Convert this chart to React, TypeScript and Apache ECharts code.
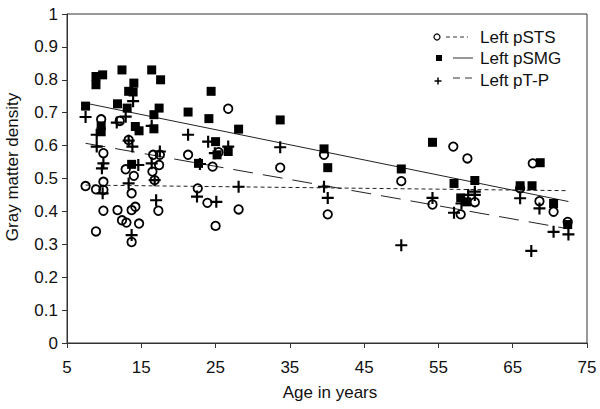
import React, { useEffect, useRef } from "react";
import * as echarts from "echarts";

// Left pSTS (open circles)
const stsAge = [7.5, 8.9, 9.9, 9.9, 9.9, 8.9, 11.8, 12.4, 13.0, 13.7, 14.2, 14.7, 13.7, 13.7, 12.9, 14.0, 16.5, 16.8, 17.3, 17.4, 22.6, 23.9, 9.9, 9.6, 12.1, 13.3, 16.6, 17.5, 21.3, 26.7, 24.6, 28.1, 25.0, 33.7, 39.6, 40.1, 57.0, 58.9, 50.0, 54.2, 58.0, 59.9, 67.7, 66.0, 68.6, 70.5, 72.4, 25.4];
const stsDensity = [0.477, 0.467, 0.49, 0.465, 0.402, 0.339, 0.404, 0.373, 0.366, 0.404, 0.414, 0.363, 0.455, 0.307, 0.528, 0.508, 0.521, 0.495, 0.402, 0.541, 0.47, 0.426, 0.577, 0.68, 0.675, 0.617, 0.572, 0.572, 0.572, 0.712, 0.536, 0.406, 0.356, 0.533, 0.572, 0.391, 0.597, 0.561, 0.492, 0.421, 0.391, 0.428, 0.546, 0.47, 0.431, 0.399, 0.368, 0.58];

// Left pSMG (filled squares)
const smgAge = [7.5, 8.9, 9.8, 8.9, 12.4, 16.4, 17.6, 14.0, 13.3, 13.9, 11.8, 13.1, 17.4, 16.7, 24.4, 21.3, 24.1, 9.6, 9.6, 14.2, 14.7, 16.7, 22.7, 13.7, 28.1, 33.7, 25.0, 25.2, 26.7, 39.6, 40.1, 54.2, 50.0, 57.1, 59.9, 58.0, 58.8, 68.7, 66.0, 67.6, 70.5, 72.4];
const smgDensity = [0.72, 0.81, 0.815, 0.785, 0.83, 0.83, 0.8, 0.79, 0.765, 0.763, 0.727, 0.714, 0.714, 0.694, 0.765, 0.702, 0.682, 0.66, 0.642, 0.658, 0.645, 0.651, 0.546, 0.543, 0.65, 0.678, 0.612, 0.572, 0.582, 0.59, 0.533, 0.61, 0.529, 0.485, 0.494, 0.441, 0.429, 0.548, 0.478, 0.478, 0.424, 0.36];

// Left pT-P (plus signs)
const tpAge = [7.5, 9.0, 9.0, 13.9, 11.7, 12.9, 16.4, 21.3, 24.0, 13.8, 17.5, 9.9, 14.6, 16.4, 9.7, 9.8, 13.3, 17.0, 13.7, 22.5, 24.9, 26.7, 22.9, 25.1, 28.1, 33.7, 39.6, 40.1, 54.2, 50.0, 57.1, 59.0, 59.9, 58.1, 59.9, 66.0, 68.6, 67.5, 70.5, 72.5, 13.3, 16.8];
const tpDensity = [0.687, 0.633, 0.597, 0.735, 0.67, 0.688, 0.66, 0.633, 0.612, 0.597, 0.582, 0.546, 0.541, 0.546, 0.531, 0.455, 0.485, 0.434, 0.328, 0.445, 0.577, 0.597, 0.544, 0.429, 0.475, 0.595, 0.475, 0.441, 0.441, 0.297, 0.396, 0.45, 0.45, 0.424, 0.46, 0.44, 0.409, 0.28, 0.338, 0.33, 0.615, 0.495];

// Regression trend lines (end points)
const trendAge = [7.5, 72.5];
const stsTrend = [0.48, 0.463];
const smgTrend = [0.729, 0.43];
const tpTrend = [0.607, 0.347];

const xTicks = [5, 75, 10];
const yTicks = [0, 1, 0.1];

const FONT = '"Liberation Sans", Arial, sans-serif';
const PLUS = "path://M0,4.1H10V5.9H0Z M4.1,0H5.9V10H4.1Z";

const zip = (a: number[], b: number[]) => a.map((v, i) => [v, b[i]]);

export default function App() {
  const ref = useRef<HTMLDivElement>(null);
  useEffect(() => {
    if (!ref.current) return;
    const chart = echarts.init(ref.current, null, { renderer: "svg" });
    const legendRows = [
      { y: 37, label: "Left pSTS" },
      { y: 58, label: "Left pSMG" },
      { y: 80, label: "Left pT-P" },
    ];
    chart.setOption({
      animation: false,
      backgroundColor: "#fff",
      grid: { left: 67, right: 13, top: 14, bottom: 66, show: true, borderColor: "#333", borderWidth: 1, backgroundColor: "transparent" },
      xAxis: {
        type: "value",
        min: xTicks[0],
        max: xTicks[1],
        interval: xTicks[2],
        axisLine: { lineStyle: { color: "#333", width: 1 } },
        axisTick: { show: true, inside: false, length: 5, lineStyle: { color: "#333" } },
        axisLabel: { color: "#111", fontSize: 17, fontFamily: FONT, margin: 16 },
        splitLine: { show: false },
      },
      yAxis: {
        type: "value",
        min: yTicks[0],
        max: yTicks[1],
        interval: yTicks[2],
        axisLine: { show: true, lineStyle: { color: "#333", width: 1 } },
        axisTick: { show: true, inside: false, length: 5, lineStyle: { color: "#333" } },
        axisLabel: {
          color: "#111",
          fontSize: 17,
          fontFamily: FONT,
          margin: 9,
          formatter: (v: number) => String(+v.toFixed(1)),
        },
        splitLine: { show: false },
      },
      series: [
        {
          type: "line",
          data: zip(trendAge, stsTrend),
          showSymbol: false,
          lineStyle: { color: "#222", width: 1, type: [4, 3] },
          z: 2,
        },
        {
          type: "line",
          data: zip(trendAge, smgTrend),
          showSymbol: false,
          lineStyle: { color: "#222", width: 1 },
          z: 2,
        },
        {
          type: "line",
          data: zip(trendAge, tpTrend),
          showSymbol: false,
          lineStyle: { color: "#222", width: 1, type: [20, 10] },
          z: 2,
        },
        {
          type: "scatter",
          data: zip(stsAge, stsDensity),
          symbol: "circle",
          symbolSize: 8.5,
          itemStyle: { color: "rgba(255,255,255,0)", borderColor: "#000", borderWidth: 1.8, opacity: 1 },
          z: 3,
        },
        {
          type: "scatter",
          data: zip(smgAge, smgDensity),
          symbol: "rect",
          symbolSize: 9,
          itemStyle: { color: "#000", opacity: 1 },
          z: 3,
        },
        {
          type: "scatter",
          data: zip(tpAge, tpDensity),
          symbol: PLUS,
          symbolSize: 12,
          itemStyle: { color: "#000", opacity: 1 },
          z: 3,
        },
      ],
      graphic: [
        {
          type: "text",
          x: 12,
          y: 167,
          rotation: Math.PI / 2,
          style: { text: "Gray matter density", fontSize: 17, fontFamily: FONT, fill: "#111", align: "center", verticalAlign: "middle" },
        },
        {
          type: "text",
          x: 330,
          y: 392,
          style: { text: "Age in years", fontSize: 17, fontFamily: FONT, fill: "#111", align: "center", verticalAlign: "middle" },
        },
        { type: "circle", shape: { cx: 437, cy: legendRows[0].y, r: 3 }, style: { fill: "#fff", stroke: "#000", lineWidth: 1.2 } },
        { type: "line", shape: { x1: 446, y1: legendRows[0].y, x2: 468, y2: legendRows[0].y }, style: { stroke: "#333", lineWidth: 1, lineDash: [4, 3] } },
        { type: "rect", shape: { x: 436, y: legendRows[1].y - 3, width: 6, height: 6 }, style: { fill: "#000" } },
        { type: "line", shape: { x1: 453, y1: legendRows[1].y, x2: 473, y2: legendRows[1].y }, style: { stroke: "#333", lineWidth: 1 } },
        { type: "line", shape: { x1: 434.5, y1: legendRows[2].y + 1, x2: 441.5, y2: legendRows[2].y + 1 }, style: { stroke: "#000", lineWidth: 1.5 } },
        { type: "line", shape: { x1: 438, y1: legendRows[2].y - 2.5, x2: 438, y2: legendRows[2].y + 4.5 }, style: { stroke: "#000", lineWidth: 1.5 } },
        { type: "line", shape: { x1: 453, y1: legendRows[2].y - 2, x2: 473, y2: legendRows[2].y - 2 }, style: { stroke: "#333", lineWidth: 1, lineDash: [7, 5] } },
        ...legendRows.map((r) => ({
          type: "text",
          x: 480,
          y: r.y,
          style: { text: r.label, fontSize: 17, fontFamily: FONT, fill: "#111", align: "left", verticalAlign: "middle" },
        })),
      ],
    });
    return () => chart.dispose();
  }, []);
  return <div ref={ref} style={{ position: "absolute", left: 0, top: 0, width: 600, height: 409 }} />;
}
